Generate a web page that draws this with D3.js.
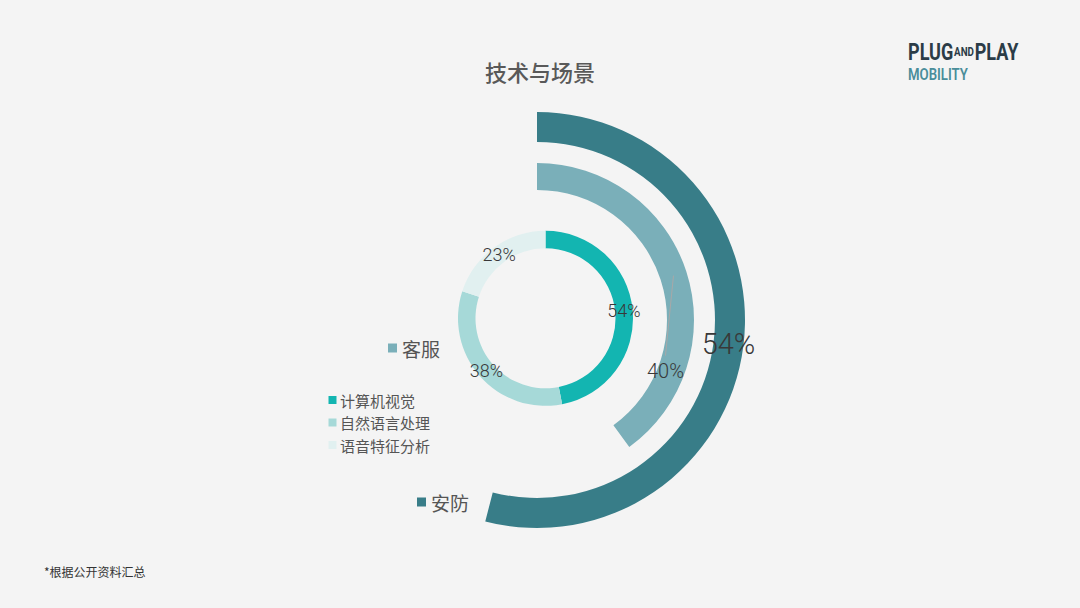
<!DOCTYPE html>
<html><head><meta charset="utf-8">
<script src="https://cdn.jsdelivr.net/npm/d3@7"></script>
<style>
html,body{margin:0;padding:0;background:#f4f4f4;}
svg{display:block;}
</style></head>
<body>
<svg id="chart" width="1080" height="608"></svg>
<script>
// ---- data ----
const title = "技术与场景";
const scenes = ["安防", "客服"];
const sceneValues = [54, 40];
const techs = ["计算机视觉", "自然语言处理", "语音特征分析"];
const techValues = [54, 38, 23];
const footnote = "*根据公开资料汇总";

// ---- styles ----
const sceneColors = ["#387d88", "#7aafb9"];
const techColors = ["#13b5b1", "#a6d9d8", "#e1f0f0"];
const cjk = "'Noto Sans CJK SC','Noto Sans',sans-serif";
const num = "Roboto,'Noto Sans',sans-serif";
const numColor = "#383838";

const svg = d3.select("#chart");
svg.append("rect").attr("width",1080).attr("height",608).attr("fill","#f4f4f4");

// title
svg.append("text").attr("x",540).attr("y",81).attr("text-anchor","middle")
  .attr("font-family",cjk).attr("font-size",22).attr("font-weight",500)
  .attr("fill","#595959").text(title);

// logo (one text per line, horizontally condensed)
const logo1 = svg.append("text").attr("font-family",num).attr("font-weight",700)
  .attr("font-size",24).attr("fill","#2b3c47");
logo1.append("tspan").text("PLUG");
logo1.append("tspan").attr("font-size",13).attr("dy",-4).attr("dx",1).text("AND");
logo1.append("tspan").attr("dy",4).attr("dx",1).text("PLAY");
const w1 = logo1.node().getComputedTextLength();
logo1.attr("transform",`translate(908,60) scale(${109/w1},1)`);
const logo2 = svg.append("text").attr("font-family",num).attr("font-weight",600)
  .attr("font-size",17).attr("fill","#4a8d9a").text("MOBILITY");
const w2 = logo2.node().getComputedTextLength();
logo2.attr("transform",`translate(908,80) scale(${60/w2},1)`);

// ---- scene arcs (percent of full circle) ----
const angle = d3.scaleLinear().domain([0,100]).range([0, 2*Math.PI]);
const sceneRadii = [[178,208],[130,157]];
const gS = svg.append("g").attr("transform","translate(537,320)");
const sceneArcs = scenes.map((s,i)=>
  d3.arc().innerRadius(sceneRadii[i][0]).outerRadius(sceneRadii[i][1])
    .startAngle(0).endAngle(angle(sceneValues[i]))
);
scenes.forEach((s,i)=>{
  gS.append("path").attr("d",sceneArcs[i]()).attr("fill",sceneColors[i]);
});
// labels
const c0 = sceneArcs[0].centroid();
gS.append("text").attr("x",c0[0]).attr("y",c0[1]).attr("text-anchor","middle")
  .attr("dominant-baseline","central").attr("font-family",num).attr("font-size",29)
  .attr("font-weight",300).attr("fill",numColor).text(sceneValues[0]+"%");
const c1 = sceneArcs[1].centroid();
const l1 = [c1[0]-8, c1[1]+95];
gS.append("line").attr("x1",c1[0]).attr("y1",c1[1]).attr("x2",l1[0]).attr("y2",l1[1]-15)
  .attr("stroke","#a8a8a8").attr("stroke-width",1);
gS.append("text").attr("x",l1[0]).attr("y",l1[1]).attr("text-anchor","middle")
  .attr("dominant-baseline","central").attr("font-family",num).attr("font-size",20)
  .attr("font-weight",300).attr("fill",numColor).text(sceneValues[1]+"%");

// ---- tech donut ----
const gT = svg.append("g").attr("transform","translate(545.5,318.3)");
const pie = d3.pie().sort(null).value(d=>d);
const techArc = d3.arc().innerRadius(70).outerRadius(87.5);
const slices = pie(techValues);
gT.selectAll("path").data(slices).enter().append("path")
  .attr("d",techArc).attr("fill",(d,i)=>techColors[i]);
gT.selectAll("text").data(slices).enter().append("text")
  .attr("x",d=>techArc.centroid(d)[0]).attr("y",d=>techArc.centroid(d)[1])
  .attr("text-anchor","middle").attr("dominant-baseline","central")
  .attr("font-family",num).attr("font-size",18).attr("font-weight",300).attr("fill",numColor)
  .text(d=>d.data+"%");

// ---- legends ----
const sceneLegendPos = [[417,502],[388,348]];
scenes.forEach((s,i)=>{
  const [x,y] = sceneLegendPos[i];
  svg.append("rect").attr("x",x).attr("y",y-4.5).attr("width",9).attr("height",9).attr("fill",sceneColors[i]);
  svg.append("text").attr("x",x+14).attr("y",y).attr("dominant-baseline","central")
    .attr("font-family",cjk).attr("font-size",19).attr("fill","#555").text(s);
});
techs.forEach((t,i)=>{
  const y = 400 + i*22.5;
  svg.append("rect").attr("x",328.5).attr("y",y-4).attr("width",8).attr("height",8).attr("fill",techColors[i]);
  svg.append("text").attr("x",340).attr("y",y).attr("dominant-baseline","central")
    .attr("font-family",cjk).attr("font-size",15).attr("fill","#555").text(t);
});

// footnote
svg.append("text").attr("x",44).attr("y",571).attr("dominant-baseline","central")
  .attr("font-family",cjk).attr("font-size",12).attr("fill","#333").text(footnote);
</script>
</body></html>
